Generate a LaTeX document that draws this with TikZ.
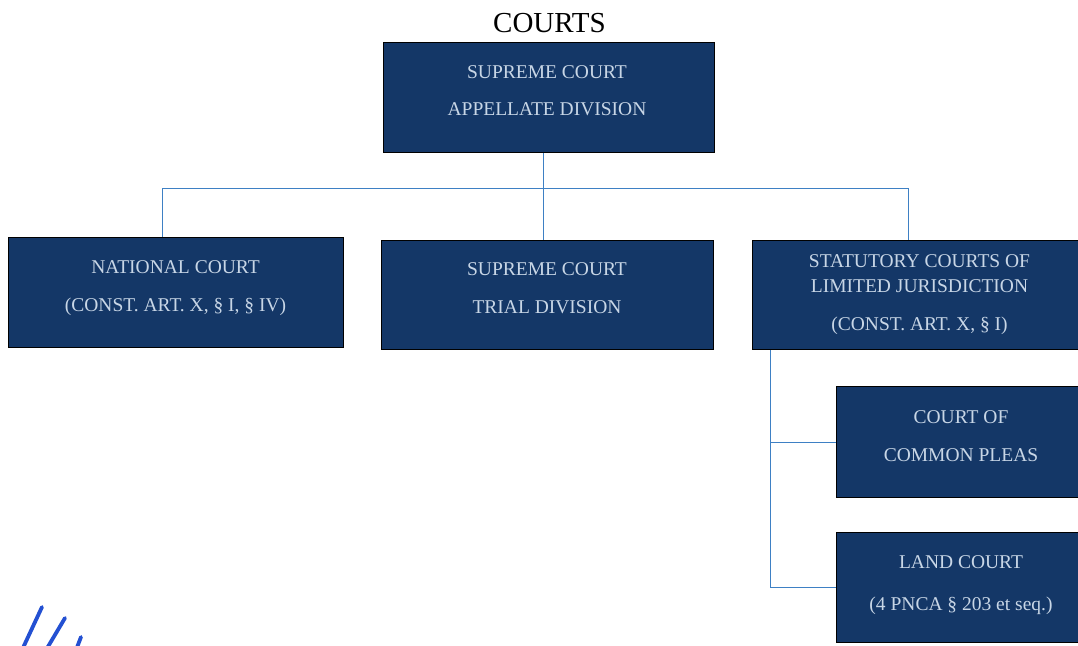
\documentclass[tikz,border=0pt]{standalone}
\usepackage{fontspec}
\setmainfont{Liberation Serif}
\definecolor{boxfill}{RGB}{20,55,103}
\definecolor{boxtext}{RGB}{200,214,230}
\definecolor{conncol}{RGB}{62,128,196}
\definecolor{inkblue}{RGB}{35,80,210}
\tikzset{
  courtbox/.style={draw=black, line width=1.2pt, fill=boxfill, inner sep=0pt, anchor=north west},
  courttext/.style={text=boxtext, font=\fontsize{19.5}{22}\selectfont, anchor=base, inner sep=0pt},
  conn/.style={draw=conncol, line width=1pt},
  ink/.style={draw=inkblue, line width=3.8pt, line cap=round}
}
\begin{document}
\begin{tikzpicture}[x=1pt,y=-1pt]
\useasboundingbox (0,0) rectangle (1078,645);
\clip (0,0) rectangle (1078,645);
\fill[white] (0,0) rectangle (1078,645);

% title
\node[anchor=base, inner sep=0pt, font=\fontsize{29}{32}\selectfont] (title) at (549.5,32) {COURTS};

% boxes
\node[courtbox, minimum width=331pt, minimum height=110pt] (app) at (383,42) {};
\node[courtbox, minimum width=335pt, minimum height=110pt] (natl) at (8,237) {};
\node[courtbox, minimum width=332pt, minimum height=109pt] (trial) at (381,240) {};
\node[courtbox, minimum width=380pt, minimum height=109pt] (stat) at (752,240) {};
\node[courtbox, minimum width=300pt, minimum height=111pt] (ccp) at (836,386) {};
\node[courtbox, minimum width=300pt, minimum height=110pt] (land) at (836,532) {};

% texts
\node[courttext] (app1) at (547,78) {SUPREME COURT};
\node[courttext] (app2) at (547,115) {APPELLATE DIVISION};
\node[courttext] (natl1) at (175.5,273) {NATIONAL COURT};
\node[courttext] (natl2) at (175.5,311) {(CONST. ART. X, \S\ I, \S\ IV)};
\node[courttext] (trial1) at (547,275) {SUPREME COURT};
\node[courttext] (trial2) at (547,313) {TRIAL DIVISION};
\node[courttext] (stat1) at (919.5,267) {STATUTORY COURTS OF};
\node[courttext] (stat2) at (919.5,292) {LIMITED JURISDICTION};
\node[courttext] (stat3) at (919.5,330) {(CONST. ART. X, \S\ I)};
\node[courttext] (ccp1) at (961,423) {COURT OF};
\node[courttext] (ccp2) at (961,461) {COMMON PLEAS};
\node[courttext] (land1) at (961,568) {LAND COURT};
\node[courttext] (land2) at (961,610) {(4 PNCA \S\ 203 et seq.)};

% connector coordinates
\coordinate (xa) at (162,188);
\coordinate (xb) at (543,188);
\coordinate (xc) at (908,188);
\coordinate (xd) at (770,0);
\coordinate (yl) at (0,587);

\draw[conn] (xb |- app.south) -- (xb);
\draw[conn] (xa) -- (xc);
\draw[conn] (xa) -- (xa |- natl.north);
\draw[conn] (xb) -- (xb |- trial.north);
\draw[conn] (xc) -- (xc |- stat.north);
\draw[conn] (xd |- stat.south) -- (xd |- yl) -- (land.west |- yl);
\draw[conn] (xd |- ccp.west) -- (ccp.west);

% handwritten mark
\draw[ink] (42,607) -- (22,650);
\draw[ink] (65,618) -- (46,650);
\draw[ink] (81,637) -- (76,650);
\end{tikzpicture}
\end{document}
